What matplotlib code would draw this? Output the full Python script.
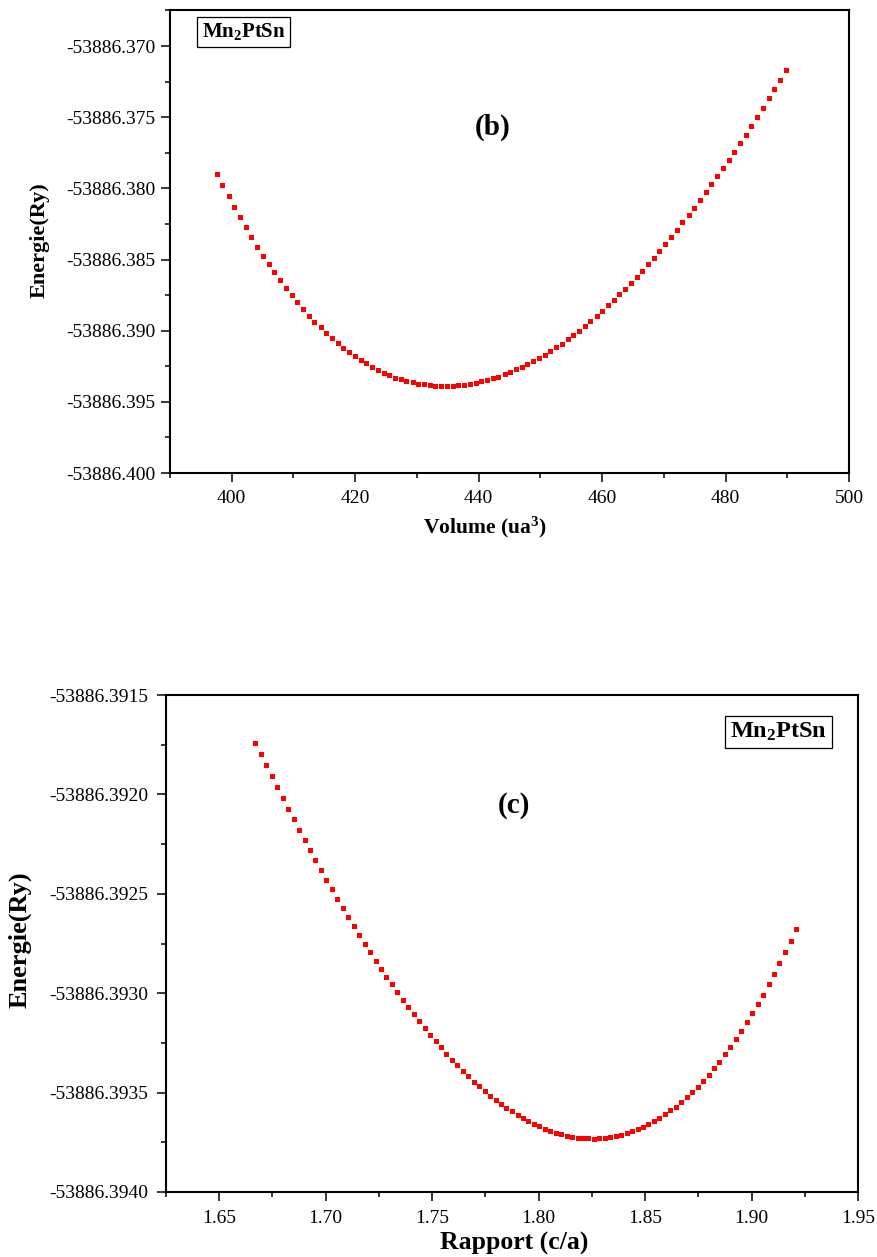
import matplotlib
matplotlib.use("Agg")
import matplotlib.pyplot as plt
from matplotlib.ticker import FixedLocator, FormatStrFormatter, AutoMinorLocator

# ---------------- data (b): Energy vs Volume ----------------
volume = [397.6, 398.5, 399.5, 400.4, 401.3, 402.3, 403.2, 404.1, 405.1, 406.0,
          406.9, 407.8, 408.8, 409.7, 410.6, 411.6, 412.5, 413.4, 414.4, 415.3,
          416.2, 417.2, 418.1, 419.0, 419.9, 420.9, 421.8, 422.7, 423.7, 424.6,
          425.5, 426.5, 427.4, 428.3, 429.3, 430.2, 431.1, 432.1, 433.0, 433.9,
          434.9, 435.8, 436.7, 437.6, 438.6, 439.5, 440.4, 441.4, 442.3, 443.2,
          444.2, 445.1, 446.0, 447.0, 447.9, 448.8, 449.8, 450.7, 451.6, 452.5,
          453.5, 454.4, 455.3, 456.3, 457.2, 458.1, 459.1, 460.0, 460.9, 461.9,
          462.8, 463.7, 464.7, 465.6, 466.5, 467.4, 468.4, 469.3, 470.2, 471.2,
          472.1, 473.0, 474.0, 474.9, 475.8, 476.8, 477.7, 478.6, 479.6, 480.5,
          481.4, 482.4, 483.3, 484.2, 485.1, 486.1, 487.0, 487.9, 488.9, 489.8]
energy_v = [-53886.378967, -53886.379765, -53886.380540, -53886.381315, -53886.382042,
            -53886.382746, -53886.383427, -53886.384085, -53886.384718, -53886.385329,
            -53886.385892, -53886.386455, -53886.386995, -53886.387512, -53886.388005,
            -53886.388498, -53886.388944, -53886.389366, -53886.389765, -53886.390164,
            -53886.390540, -53886.390892, -53886.391197, -53886.391502, -53886.391784,
            -53886.392066, -53886.392300, -53886.392535, -53886.392746, -53886.392958,
            -53886.393122, -53886.393310, -53886.393404, -53886.393545, -53886.393639,
            -53886.393732, -53886.393779, -53886.393826, -53886.393873, -53886.393897,
            -53886.393897, -53886.393897, -53886.393850, -53886.393803, -53886.393732,
            -53886.393662, -53886.393568, -53886.393474, -53886.393357, -53886.393239,
            -53886.393052, -53886.392911, -53886.392723, -53886.392535, -53886.392371,
            -53886.392160, -53886.391925, -53886.391714, -53886.391455, -53886.391174,
            -53886.390915, -53886.390610, -53886.390305, -53886.390000, -53886.389648,
            -53886.389319, -53886.388967, -53886.388592, -53886.388216, -53886.387840,
            -53886.387441, -53886.387042, -53886.386643, -53886.386197, -53886.385775,
            -53886.385329, -53886.384859, -53886.384390, -53886.383920, -53886.383427,
            -53886.382911, -53886.382394, -53886.381878, -53886.381361, -53886.380845,
            -53886.380282, -53886.379718, -53886.379155, -53886.378592, -53886.378005,
            -53886.377418, -53886.376831, -53886.376221, -53886.375587, -53886.374953,
            -53886.374319, -53886.373662, -53886.373028, -53886.372371, -53886.371714]

# ---------------- data (c): Energy vs c/a ----------------
ratio = [1.6670, 1.6696, 1.6721, 1.6747, 1.6773, 1.6798, 1.6824, 1.6849, 1.6875, 1.6901,
         1.6926, 1.6952, 1.6978, 1.7003, 1.7029, 1.7055, 1.7080, 1.7106, 1.7132, 1.7157,
         1.7183, 1.7208, 1.7234, 1.7260, 1.7285, 1.7311, 1.7337, 1.7362, 1.7388, 1.7414,
         1.7439, 1.7465, 1.7490, 1.7516, 1.7542, 1.7567, 1.7593, 1.7619, 1.7644, 1.7670,
         1.7696, 1.7721, 1.7747, 1.7773, 1.7798, 1.7824, 1.7849, 1.7875, 1.7901, 1.7926,
         1.7952, 1.7978, 1.8003, 1.8029, 1.8055, 1.8080, 1.8106, 1.8131, 1.8157, 1.8183,
         1.8208, 1.8234, 1.8260, 1.8285, 1.8311, 1.8337, 1.8362, 1.8388, 1.8414, 1.8439,
         1.8465, 1.8490, 1.8516, 1.8542, 1.8567, 1.8593, 1.8619, 1.8644, 1.8670, 1.8696,
         1.8721, 1.8747, 1.8772, 1.8798, 1.8824, 1.8849, 1.8875, 1.8901, 1.8926, 1.8952,
         1.8978, 1.9003, 1.9029, 1.9055, 1.9080, 1.9106, 1.9131, 1.9157, 1.9183, 1.9208]
energy_r = [-53886.391740, -53886.391797, -53886.391852, -53886.391908, -53886.391963,
            -53886.392017, -53886.392072, -53886.392124, -53886.392178, -53886.392228,
            -53886.392279, -53886.392330, -53886.392379, -53886.392430, -53886.392476,
            -53886.392525, -53886.392572, -53886.392617, -53886.392661, -53886.392706,
            -53886.392750, -53886.392792, -53886.392836, -53886.392877, -53886.392918,
            -53886.392956, -53886.392995, -53886.393032, -53886.393070, -53886.393107,
            -53886.393141, -53886.393174, -53886.393210, -53886.393241, -53886.393273,
            -53886.393305, -53886.393334, -53886.393362, -53886.393391, -53886.393418,
            -53886.393445, -53886.393468, -53886.393491, -53886.393515, -53886.393537,
            -53886.393555, -53886.393577, -53886.393594, -53886.393612, -53886.393627,
            -53886.393643, -53886.393657, -53886.393670, -53886.393683, -53886.393693,
            -53886.393701, -53886.393710, -53886.393716, -53886.393721, -53886.393726,
            -53886.393728, -53886.393730, -53886.393731, -53886.393730, -53886.393728,
            -53886.393725, -53886.393720, -53886.393713, -53886.393705, -53886.393695,
            -53886.393684, -53886.393673, -53886.393659, -53886.393644, -53886.393627,
            -53886.393609, -53886.393590, -53886.393570, -53886.393549, -53886.393523,
            -53886.393498, -53886.393470, -53886.393441, -53886.393411, -53886.393377,
            -53886.393344, -53886.393307, -53886.393270, -53886.393231, -53886.393189,
            -53886.393146, -53886.393102, -53886.393055, -53886.393007, -53886.392956,
            -53886.392904, -53886.392849, -53886.392795, -53886.392735, -53886.392676]

# tick values
b_xticks = [400, 420, 440, 460, 480, 500]
b_yticks = [-53886.400, -53886.395, -53886.390, -53886.385, -53886.380, -53886.375, -53886.370]
c_xticks = [1.65, 1.70, 1.75, 1.80, 1.85, 1.90, 1.95]
c_yticks = [-53886.3940, -53886.3935, -53886.3930, -53886.3925, -53886.3920, -53886.3915]

compound = r"$\mathbf{Mn_{2}PtSn}$"

plt.rcParams["font.family"] = ["Liberation Serif", "DejaVu Serif"]
plt.rcParams["mathtext.fontset"] = "custom"
plt.rcParams["mathtext.rm"] = "Liberation Serif"
plt.rcParams["mathtext.it"] = "Liberation Serif:italic"
plt.rcParams["mathtext.bf"] = "Liberation Serif:bold"

W, H = 877, 1257
fig = plt.figure(figsize=(W / 100, H / 100), dpi=100)


def px_axes(l, t, r, b):
    return fig.add_axes([l / W, 1 - b / H, (r - l) / W, (b - t) / H])


def style(ax, fs, ypad, xpad):
    for s in ax.spines.values():
        s.set_linewidth(1.5)
    ax.tick_params(which="major", direction="out", length=6.5, width=1.1,
                   labelsize=fs, top=False, right=False)
    ax.tick_params(which="minor", direction="out", length=3.6, width=1.1,
                   top=False, right=False)
    ax.tick_params(axis="y", which="major", pad=ypad)
    ax.tick_params(axis="x", which="major", pad=xpad)
    ax.xaxis.set_minor_locator(AutoMinorLocator(2))
    ax.yaxis.set_minor_locator(AutoMinorLocator(2))


# ---------- top panel (b) ----------
ax1 = px_axes(170, 10, 849, 473)
ax1.plot(volume, energy_v, linestyle="none", marker="s", ms=3.6,
         color="#ff0000", mec="#ff0000", mew=0)
ax1.set_xlim(390, 500)
ax1.set_ylim(-53886.400, -53886.367465)
ax1.xaxis.set_major_locator(FixedLocator(b_xticks))
ax1.yaxis.set_major_locator(FixedLocator(b_yticks))
ax1.xaxis.set_major_formatter(FormatStrFormatter("%d"))
ax1.yaxis.set_major_formatter(FormatStrFormatter("%.3f"))
style(ax1, 14, 4, 5.5)
ax1.set_xlabel(r"Volume (ua$^{\mathbf{3}}$)", fontsize=15.5, fontweight="bold")
ax1.xaxis.set_label_coords(0.4639, -0.1166)
ax1.xaxis.label.set_va("center")
ax1.set_ylabel("Energie(Ry)", fontsize=16, fontweight="bold")
ax1.yaxis.set_label_coords(-0.1915, 0.503)
ax1.yaxis.label.set_va("center")
ax1.text(0.1082, 0.9525, compound, transform=ax1.transAxes, ha="center", va="center",
         fontsize=15, bbox=dict(boxstyle="square,pad=0.22", fc="white", ec="black", lw=0.9))
ax1.text(0.4757, 0.7473, "(b)", transform=ax1.transAxes, ha="center", va="center",
         fontsize=21, fontweight="bold")

# ---------- bottom panel (c) ----------
ax2 = px_axes(166, 695, 858, 1192)
ax2.plot(ratio, energy_r, linestyle="none", marker="s", ms=3.6,
         color="#ff0000", mec="#ff0000", mew=0)
ax2.set_xlim(1.625, 1.95)
ax2.set_ylim(-53886.3940, -53886.3915)
ax2.xaxis.set_major_locator(FixedLocator(c_xticks))
ax2.yaxis.set_major_locator(FixedLocator(c_yticks))
ax2.xaxis.set_major_formatter(FormatStrFormatter("%.2f"))
ax2.yaxis.set_major_formatter(FormatStrFormatter("%.4f"))
style(ax2, 14, 6.5, 6.5)
ax2.set_xlabel("Rapport (c/a)", fontsize=18.5, fontweight="bold")
ax2.xaxis.set_label_coords(0.5029, -0.1026)
ax2.xaxis.label.set_va("center")
ax2.set_ylabel("Energie(Ry)", fontsize=19, fontweight="bold")
ax2.yaxis.set_label_coords(-0.211, 0.507)
ax2.yaxis.label.set_va("center")
ax2.text(0.8851, 0.9256, compound, transform=ax2.transAxes, ha="center", va="center",
         fontsize=17.5, bbox=dict(boxstyle="square,pad=0.2", fc="white", ec="black", lw=0.9))
ax2.text(0.5029, 0.7767, "(c)", transform=ax2.transAxes, ha="center", va="center",
         fontsize=21, fontweight="bold")

fig.savefig("out.png", dpi=100)
